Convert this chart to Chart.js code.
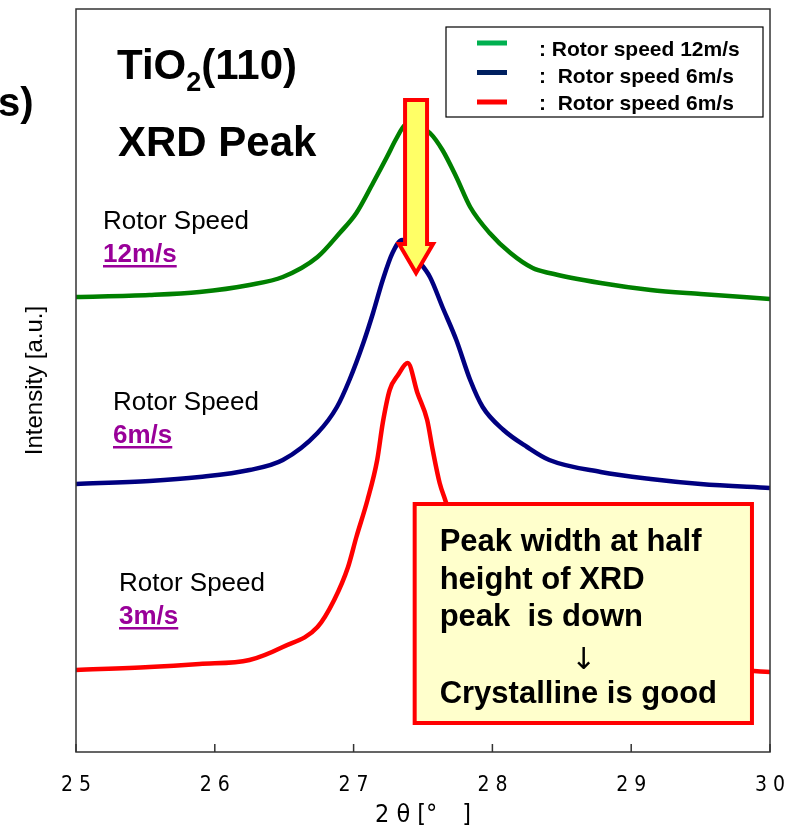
<!DOCTYPE html>
<html>
<head>
<meta charset="utf-8">
<title>TiO2(110) XRD Peak</title>
<script src="https://cdn.jsdelivr.net/npm/chart.js@4.4.1/dist/chart.umd.min.js"></script>
<style>
  html, body { margin: 0; padding: 0; background: #fff; }
</style>
</head>
<body>
<canvas id="xrdChart" width="794" height="830"></canvas>
<script>
// --- Data (2theta in degrees, intensity in a.u.) ---
const angles12 = [25.00, 25.53, 25.89, 26.25, 26.49, 26.74, 26.90, 27.02, 27.14, 27.24, 27.31, 27.37, 27.40, 27.48, 27.55, 27.64, 27.74, 27.84, 27.98, 28.13, 28.29, 28.41, 28.78, 29.14, 29.50, 30.00];
const counts12 = [455, 457, 460, 467, 475, 495, 519, 539, 569, 595, 614, 627, 628, 625, 619, 602, 575, 545, 519, 499, 484, 479, 469, 462, 458, 453];

const angles6 = [25.00, 25.53, 25.89, 26.25, 26.49, 26.74, 26.88, 26.97, 27.07, 27.14, 27.21, 27.28, 27.35, 27.45, 27.55, 27.64, 27.74, 27.84, 27.93, 28.08, 28.25, 28.41, 28.78, 29.14, 29.50, 30.00];
const counts6 = [268, 271, 275, 282, 292, 319, 345, 372, 409, 439, 472, 499, 512, 494, 475, 445, 412, 372, 345, 322, 305, 292, 280, 273, 268, 264];

const angles3 = [25.00, 25.53, 25.89, 26.25, 26.49, 26.74, 26.86, 26.96, 27.02, 27.10, 27.17, 27.21, 27.26, 27.32, 27.39, 27.46, 27.53, 27.57, 27.62, 27.66, 27.80, 27.95, 28.10, 28.30, 28.60, 29.00, 29.50, 30.00];
const counts3 = [82, 85, 88, 92, 105, 125, 152, 185, 215, 252, 292, 329, 362, 377, 389, 359, 332, 302, 269, 252, 192, 157, 134, 117, 102, 92, 85, 80];

const xTicks = [25, 26, 27, 28, 29, 30];
const legendLabels = [': Rotor speed 12m/s', ':  Rotor speed 6m/s', ':  Rotor speed 6m/s'];

function toPoints(xs, ys) {
    return xs.map((x, i) => ({ x: x, y: ys[i] }));
}

const lineColors = ['#008000', '#000080', '#ff0000'];
const legendColors = ['#00b050', '#002060', '#ff0000'];

// Overlay: frame, inner ticks, arrow, callout, labels, legend
const overlayPlugin = {
    id: 'overlay',
    afterDatasetsDraw(chart) {
        const ctx = chart.ctx;
        const a = chart.chartArea;
        const xs = chart.scales.x;
        const ys = chart.scales.y;
        ctx.save();

        // frame
        ctx.strokeStyle = '#333';
        ctx.lineWidth = 1.5;
        ctx.strokeRect(a.left, a.top, a.right - a.left, a.bottom - a.top);
        // inward tick marks on bottom axis
        xTicks.forEach(v => {
            const px = xs.getPixelForValue(v);
            ctx.beginPath();
            ctx.moveTo(px, a.bottom);
            ctx.lineTo(px, a.bottom - 8);
            ctx.stroke();
        });

        // big yellow arrow
        const cx = xs.getPixelForValue(27.45);
        const top = ys.getPixelForValue(652);
        const tip = ys.getPixelForValue(479);
        const headTop = tip - 29;
        ctx.beginPath();
        ctx.moveTo(cx - 11, top);
        ctx.lineTo(cx + 11, top);
        ctx.lineTo(cx + 11, headTop);
        ctx.lineTo(cx + 17, headTop);
        ctx.lineTo(cx, tip);
        ctx.lineTo(cx - 17, headTop);
        ctx.lineTo(cx - 11, headTop);
        ctx.closePath();
        ctx.fillStyle = '#ffff66';
        ctx.fill();
        ctx.strokeStyle = '#ff0000';
        ctx.lineWidth = 4;
        ctx.lineJoin = 'miter';
        ctx.stroke();

        // callout box
        const bx1 = xs.getPixelForValue(27.44), bx2 = xs.getPixelForValue(29.87);
        const by1 = ys.getPixelForValue(248), by2 = ys.getPixelForValue(29);
        ctx.fillStyle = '#ffffcc';
        ctx.fillRect(bx1, by1, bx2 - bx1, by2 - by1);
        ctx.strokeStyle = '#ff0000';
        ctx.lineWidth = 4;
        ctx.strokeRect(bx1, by1, bx2 - bx1, by2 - by1);

        ctx.fillStyle = '#000';
        ctx.font = 'bold 31px "Liberation Sans", Arial, sans-serif';
        ctx.textAlign = 'left';
        ctx.textBaseline = 'alphabetic';
        ctx.fillText('Peak width at half', bx1 + 25, by1 + 47);
        ctx.fillText('height of XRD', bx1 + 25, by1 + 85);
        ctx.fillText('peak  is down', bx1 + 25, by1 + 122);
        ctx.fillText('Crystalline is good', bx1 + 25, by1 + 199);
        ctx.font = '30px "DejaVu Sans", sans-serif';
        ctx.textAlign = 'center';
        ctx.fillText('\u2193', bx1 + 169, by1 + 165);

        // title text
        ctx.textAlign = 'left';
        ctx.font = 'bold 42px "Liberation Sans", Arial, sans-serif';
        let tx = 117;
        ctx.fillText('TiO', tx, 79);
        tx += ctx.measureText('TiO').width;
        ctx.font = 'bold 27px "Liberation Sans", Arial, sans-serif';
        ctx.fillText('2', tx, 91);
        tx += ctx.measureText('2').width;
        ctx.font = 'bold 42px "Liberation Sans", Arial, sans-serif';
        ctx.fillText('(110)', tx, 79);
        ctx.fillText('XRD Peak', 118, 156);
        ctx.font = 'bold 40px "Liberation Sans", Arial, sans-serif';
        ctx.fillText('s)', -2, 116);

        // Rotor speed labels
        const speedLabels = [
            { x: 103, y: 229, speed: '12m/s' },
            { x: 113, y: 410, speed: '6m/s' },
            { x: 119, y: 591, speed: '3m/s' }
        ];
        speedLabels.forEach(l => {
            ctx.fillStyle = '#000';
            ctx.font = '26px "Liberation Sans", Arial, sans-serif';
            ctx.fillText('Rotor Speed', l.x, l.y);
            ctx.fillStyle = '#990099';
            ctx.font = 'bold 26px "Liberation Sans", Arial, sans-serif';
            ctx.fillText(l.speed, l.x, l.y + 33);
            const w = ctx.measureText(l.speed).width;
            ctx.fillRect(l.x, l.y + 36, w, 2.5);
        });

        // legend box
        ctx.fillStyle = '#fff';
        ctx.fillRect(446, 27, 317, 90);
        ctx.strokeStyle = '#000';
        ctx.lineWidth = 1.2;
        ctx.strokeRect(446, 27, 317, 90);
        ctx.font = 'bold 21px "Liberation Sans", Arial, sans-serif';
        ctx.textBaseline = 'middle';
        legendLabels.forEach((lbl, i) => {
            const ly = 43 + i * 29.5;
            ctx.fillStyle = legendColors[i];
            ctx.fillRect(477, ly - 2.5, 30, 5);
            ctx.fillStyle = '#000';
            ctx.fillText(lbl, 539, ly + 7 - i * 2.5);
        });

        ctx.restore();
    }
};

const ctx = document.getElementById('xrdChart').getContext('2d');
new Chart(ctx, {
    type: 'line',
    data: {
        datasets: [
            { label: 'Rotor speed 12m/s', data: toPoints(angles12, counts12), borderColor: lineColors[0] },
            { label: 'Rotor speed 6m/s', data: toPoints(angles6, counts6), borderColor: lineColors[1] },
            { label: 'Rotor speed 3m/s', data: toPoints(angles3, counts3), borderColor: lineColors[2] }
        ]
    },
    options: {
        responsive: false,
        animation: false,
        layout: { padding: { left: 0, right: 24, top: 9, bottom: 0 } },
        elements: {
            line: { borderWidth: 4.5, cubicInterpolationMode: 'monotone' },
            point: { radius: 0 }
        },
        plugins: {
            legend: { display: false },
            tooltip: { enabled: false }
        },
        scales: {
            x: {
                type: 'linear',
                min: 25,
                max: 30,
                grid: { display: false },
                border: { display: false },
                ticks: {
                    stepSize: 1,
                    padding: 13,
                    color: '#000',
                    font: { family: '"DejaVu Sans Condensed", "Liberation Sans Narrow", sans-serif', size: 21 },
                    callback: v => String(v).split('').join(' ')
                },
                title: {
                    display: true,
                    text: '2 \u03B8 [\u00B0\u3000]',
                    color: '#000',
                    padding: { top: 0, bottom: 0 },
                    font: { family: '"DejaVu Sans Condensed", "Liberation Sans Narrow", sans-serif', size: 25 }
                },
                afterFit: scale => {
                    scale.height = 78;
                    scale.paddingLeft = 0;
                    scale.paddingRight = 0;
                }
            },
            y: {
                min: 0,
                max: 743,
                grid: { display: false },
                border: { display: false },
                ticks: { display: false },
                title: {
                    display: true,
                    text: 'Intensity [a.u.]',
                    color: '#000',
                    padding: { top: 21, bottom: 0 },
                    font: { family: '"Liberation Sans", Arial, sans-serif', size: 24 }
                },
                afterFit: scale => { scale.width = 76; }
            }
        }
    },
    plugins: [overlayPlugin]
});
</script>
</body>
</html>
